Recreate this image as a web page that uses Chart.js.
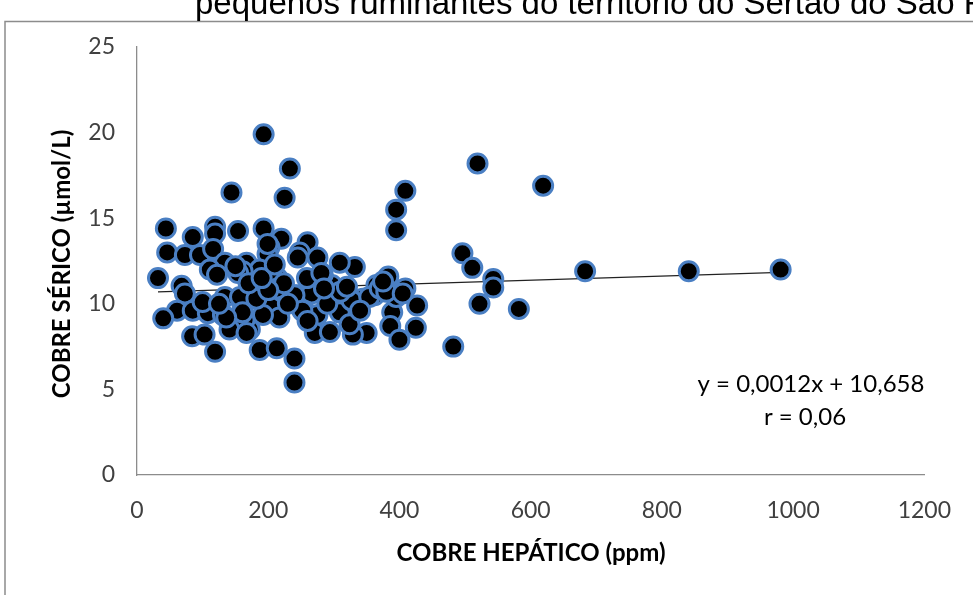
<!DOCTYPE html>
<html>
<head>
<meta charset="utf-8">
<script src="https://cdn.jsdelivr.net/npm/chart.js@4/dist/chart.umd.min.js"></script>
<style>
  html, body { margin: 0; padding: 0; background: #fff; overflow: hidden; }
  #wrap { position: relative; width: 973px; height: 595px; }
</style>
</head>
<body>
<div id="wrap"><canvas id="c" width="973" height="595"></canvas></div>
<script>
// Cobre hepático (ppm) de cada animal
const xHepatico = [
  193, 233, 144, 225, 409, 395, 395, 519, 619, 683, 841, 981, 496, 511, 543, 543, 522, 582, 482,
  383, 409, 427, 389, 386, 425, 400, 332, 365, 395, 329, 344, 350, 329, 362,
  260, 248, 275, 309, 297, 283, 243, 266, 255, 275, 309, 327, 354, 271, 294, 240, 324,
  193, 220, 202, 199, 245, 167, 187, 161, 214, 259, 281, 214, 240, 179, 161, 205, 217, 252,
  172, 187, 213, 192, 164,
  44, 85, 119, 119, 154, 46, 73, 96, 116, 134, 111, 122, 154, 32, 68, 73, 134, 157, 61, 85,
  108, 40, 131, 141, 84, 103, 119, 161, 167, 240, 136, 182, 199, 224, 290, 200, 230, 310, 320,
  260, 150, 170, 100, 125, 190, 340, 210, 285, 370, 380, 375, 405
];
// Cobre sérico (µmol/L) correspondente
const ySerico = [
  19.9, 17.9, 16.5, 16.2, 16.6, 15.5, 14.3, 18.2, 16.9, 11.9, 11.9, 12.0, 12.95, 12.1, 11.45, 10.95, 10.0, 9.7, 7.5,
  11.6, 10.9, 9.9, 9.5, 8.7, 8.6, 7.9, 12.15, 11.1, 10.4, 10.1, 10.3, 8.3, 8.2, 10.5,
  13.6, 13.0, 12.7, 12.4, 11.1, 11.7, 10.5, 10.6, 9.6, 9.35, 9.5, 10.2, 10.4, 8.3, 8.35, 6.8, 8.8,
  14.4, 13.8, 13.3, 12.9, 12.7, 12.4, 12.0, 11.9, 11.5, 11.5, 11.8, 10.9, 10.5, 10.4, 9.8, 9.8, 9.2, 9.6,
  8.5, 7.3, 7.4, 9.35, 9.05,
  14.4, 13.9, 14.5, 14.1, 14.25, 13.0, 12.85, 12.85, 13.2, 12.4, 12.0, 11.7, 11.8, 11.5, 11.05, 10.6, 10.4, 10.4, 9.6, 9.6,
  9.45, 9.15, 9.35, 8.5, 8.1, 8.2, 7.2, 9.5, 8.3, 5.4, 9.2, 10.3, 13.5, 11.2, 10.0, 10.8, 10.0, 10.7, 11.0,
  9.0, 12.2, 11.2, 10.1, 10.0, 11.5, 9.6, 12.3, 10.9, 10.9, 10.7, 11.3, 10.6
];

// Marcas dos eixos
const xTicks = [0, 200, 400, 600, 800, 1000, 1200];
const yTicks = [0, 5, 10, 15, 20, 25];

// Reta de regressão linear
const trendSlope = 0.0012;
const trendIntercept = 10.658;
const trendRange = [32, 981];
const equationLines = ['y = 0,0012x + 10,658', 'r = 0,06'];

const titleText = 'pequenos ruminantes do território do Sertão do São Francisco';
const xTitle = 'COBRE HEPÁTICO (ppm)';
const yTitle = 'COBRE SÉRICO (µmol/L)';

const points = xHepatico.map((x, i) => ({ x: x, y: ySerico[i] }));
const trendPoints = trendRange.map(x => ({ x: x, y: trendSlope * x + trendIntercept }));

const TICK_FONT = { family: 'Lato, sans-serif', size: 23 };
const TEXT_COLOR = '#404040';

// Moldura, título cortado no topo, títulos dos eixos e equação
const decorations = {
  id: 'decorations',
  beforeDraw(chart) {
    const c = chart.ctx;
    c.save();
    c.fillStyle = '#ffffff';
    c.fillRect(0, 0, chart.width, chart.height);
    c.strokeStyle = '#8c8c8c';
    c.lineWidth = 1.5;
    c.beginPath();
    c.moveTo(5, chart.height + 2);
    c.lineTo(5, 21.5);
    c.lineTo(chart.width + 2, 21.5);
    c.stroke();
    c.fillStyle = '#000';
    c.font = '33px "Liberation Sans", Arial, sans-serif';
    c.textAlign = 'left';
    c.textBaseline = 'alphabetic';
    c.fillText(titleText, 195, 14);
    c.restore();
  },
  afterDraw(chart) {
    const c = chart.ctx;
    c.save();
    c.fillStyle = '#000';
    c.font = 'bold 24px Lato, sans-serif';
    c.textAlign = 'center';
    c.textBaseline = 'middle';
    c.fillText(xTitle, 531, 553);
    c.translate(62, 264);
    c.rotate(-Math.PI / 2);
    c.fillText(yTitle, 0, 0);
    c.restore();

    c.save();
    c.fillStyle = '#000';
    c.font = '24px Lato, sans-serif';
    c.textAlign = 'center';
    c.textBaseline = 'middle';
    c.fillText(equationLines[0], 811, 384);
    c.fillText(equationLines[1], 805, 417);
    c.restore();
  }
};

new Chart(document.getElementById('c'), {
  type: 'scatter',
  data: {
    datasets: [
      {
        label: 'Cobre',
        data: points,
        pointRadius: 9.5,
        pointHoverRadius: 9.5,
        pointBackgroundColor: '#000000',
        pointBorderColor: '#4a7fc3',
        pointBorderWidth: 3,
        order: 1
      },
      {
        label: 'Tendência',
        type: 'line',
        data: trendPoints,
        borderColor: '#222222',
        borderWidth: 1.4,
        pointRadius: 0,
        fill: false,
        order: 2
      }
    ]
  },
  options: {
    responsive: false,
    animation: false,
    devicePixelRatio: 1,
    layout: { padding: { left: 0, top: 47, right: 42, bottom: 0 } },
    plugins: { legend: { display: false }, tooltip: { enabled: false }, title: { display: false } },
    scales: {
      x: {
        type: 'linear',
        min: 0,
        max: 1200,
        afterBuildTicks(scale) { scale.ticks = xTicks.map(v => ({ value: v })); },
        afterFit(scale) { scale.height = 120; },
        grid: { display: false, drawTicks: false },
        border: { display: true, color: '#8c8c8c', width: 1.3 },
        ticks: { font: TICK_FONT, color: TEXT_COLOR, padding: 22, maxRotation: 0, callback: v => String(v) }
      },
      y: {
        type: 'linear',
        min: 0,
        max: 25,
        afterBuildTicks(scale) { scale.ticks = yTicks.map(v => ({ value: v })); },
        afterFit(scale) { scale.width = 137; },
        grid: { display: false, drawTicks: false },
        border: { display: true, color: '#8c8c8c', width: 1.3 },
        ticks: { font: TICK_FONT, color: TEXT_COLOR, padding: 22, callback: v => String(v) }
      }
    }
  },
  plugins: [decorations]
});
</script>
</body>
</html>
